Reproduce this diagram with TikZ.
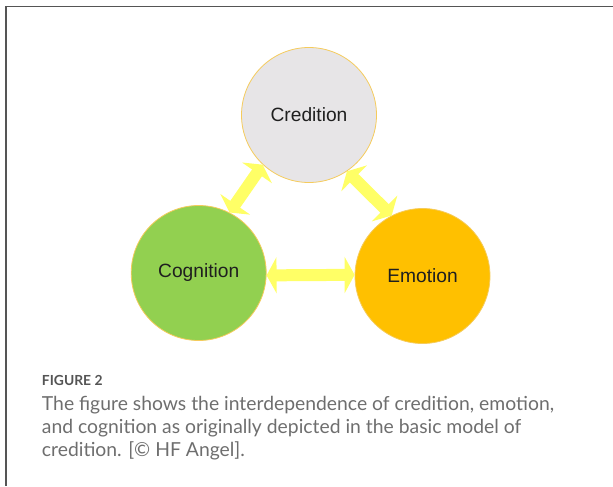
\documentclass[tikz,border=0pt]{standalone}
\usepackage{fontspec}
\usetikzlibrary{arrows.meta}
\newfontfamily\labelfont{Liberation Sans}
\newfontfamily\capfont{Lato}
\definecolor{credgray}{HTML}{E7E5E7}
\definecolor{coggreen}{HTML}{92D050}
\definecolor{emogold}{HTML}{FFC000}
\definecolor{rimgold}{HTML}{F5CB5C}
\definecolor{linkyellow}{HTML}{FFFF66}
\definecolor{framegray}{HTML}{555555}
\definecolor{captiongray}{HTML}{6E6E6E}
\tikzset{
	ball/.style={circle, draw=rimgold, line width=0.6pt, inner sep=0pt, minimum size=101.25pt, text=black!88, font=\labelfont\fontsize{14.4pt}{16pt}\selectfont},
	link/.style={line width=9pt, color=linkyellow, {Triangle[length=7.5pt, width=27pt]}-{Triangle[length=7.5pt, width=27pt]}}
}

\begin{document}
\begin{tikzpicture}[x=0.75pt, y=-0.75pt]
			%%%%% START %%%%%
			\useasboundingbox (0, 0) rectangle (613, 486);
			
			\draw[line width=1.1pt, color=framegray] (613, 6.7) -- (6.2, 6.7) -- (6.2, 486);
			
			\node[ball, fill=credgray] (cred) at (309, 115) {Credition};
			\node[ball, fill=coggreen] (cog) at (198.7, 273) {Cognition};
			\node[ball, fill=emogold] (emo) at (422.5, 276) {Emotion};
			
			\draw[link] (cog.63) -- (cred.227);
			\draw[link] (cred.304) -- (emo.117);
			\draw[link] (cog.-2) -- (emo.179);
			
			\node[anchor=base west, inner sep=0pt, text=framegray, font=\capfont\bfseries\fontsize{10.4pt}{12pt}\selectfont] (figlabel) at (41.7, 385.7) {FIGURE 2};
			\node[anchor=base west, inner sep=0pt, align=left, text=captiongray, font=\capfont\fontsize{14.5pt}{17.5pt}\selectfont] (caption) at (41.7, 456.7) {The figure shows the interdependence of credition, emotion,\\ and cognition as originally depicted in the basic model of\\ credition. [\textcopyright\ HF Angel].};
			%%%%% END %%%%%
		\end{tikzpicture}
\end{document}
